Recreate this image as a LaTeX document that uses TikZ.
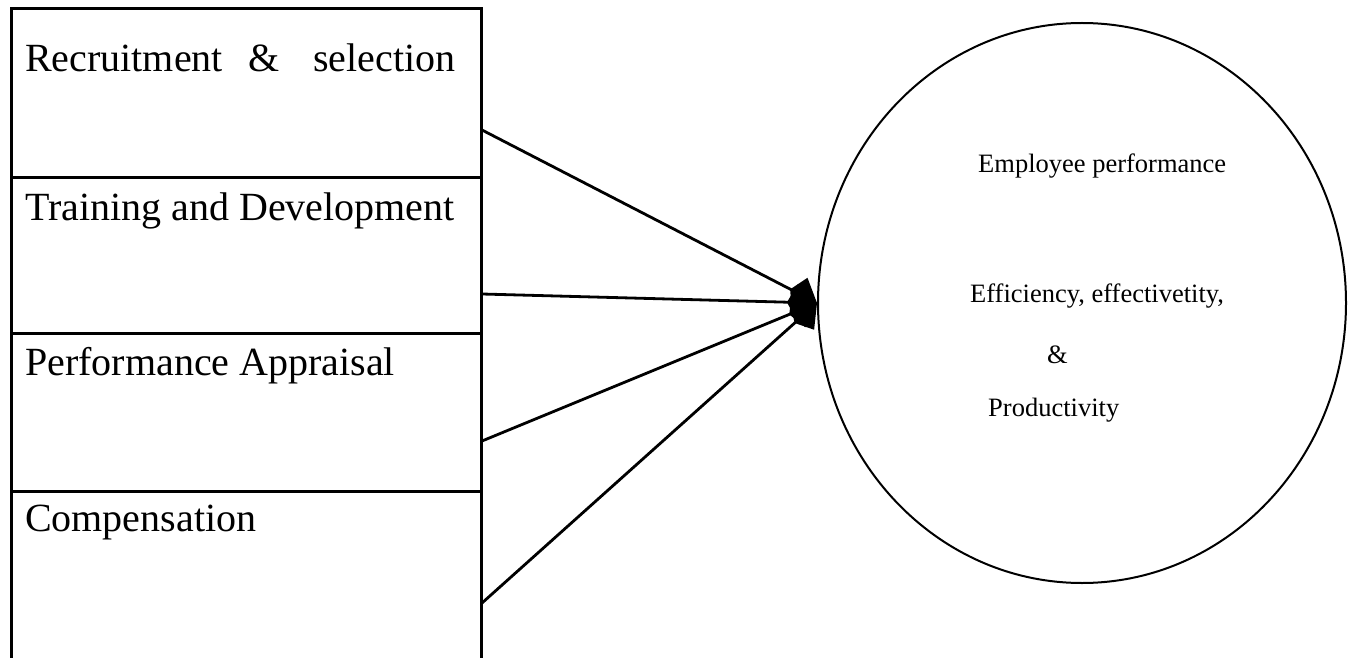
\documentclass[tikz,border=0pt]{standalone}
\usepackage{fontspec}
\setmainfont{Liberation Serif}
\usetikzlibrary{arrows.meta,shapes.geometric}
\begin{document}
\begin{tikzpicture}[x=1pt,y=-1pt,
  boxcell/.style={draw,line width=3pt,minimum width=470pt,inner sep=0pt,anchor=north west},
  bigtxt/.style={anchor=base west,inner sep=0pt,font=\fontsize{40}{48}\selectfont},
  smalltxt/.style={anchor=base west,inner sep=0pt,font=\fontsize{26.5}{32}\selectfont},
  link/.style={line width=2.8pt,-{Kite[length=30pt,width=36pt,inset=10pt]}}]
\useasboundingbox (0,0) rectangle (1353,658);
% left stacked boxes
\node[boxcell,minimum height=169pt] (r1) at (10,7) {};
\node[boxcell,minimum height=156pt] (r2) at (10,176) {};
\node[boxcell,minimum height=158pt] (r3) at (10,332) {};
\node[boxcell,minimum height=190pt] (r4) at (10,490) {};
\node[bigtxt] (t1) at (25,72) {Recruitment\hspace{26pt}\&\hspace{33pt}selection};
\node[bigtxt] (t2) at (25,220) {Training and Development};
\node[bigtxt] (t3) at (25,375) {Performance Appraisal};
\node[bigtxt] (t4) at (25,531) {Compensation};
% ellipse
\node[draw,ellipse,line width=2pt,minimum width=528pt,minimum height=560pt,inner sep=0pt] (ep) at (1082,303) {};
\node[smalltxt] (e1) at (978,173) {Employee performance};
\node[smalltxt] (e2) at (970,302) {Efficiency, effectivetity,};
\node[smalltxt] (e3) at (1047,363) {\&};
\node[smalltxt] (e4) at (988,416) {Productivity};
% connectors
\coordinate (a1) at (482,130);
\coordinate (a2) at (482,294);
\coordinate (a3) at (482,441);
\coordinate (a4) at (482,603);
\draw[link] (a1) -- (ep.west);
\draw[link] (a2) -- (ep.west);
\draw[link] (a3) -- (ep.west);
\draw[link] (a4) -- (ep.west);
\end{tikzpicture}
\end{document}
